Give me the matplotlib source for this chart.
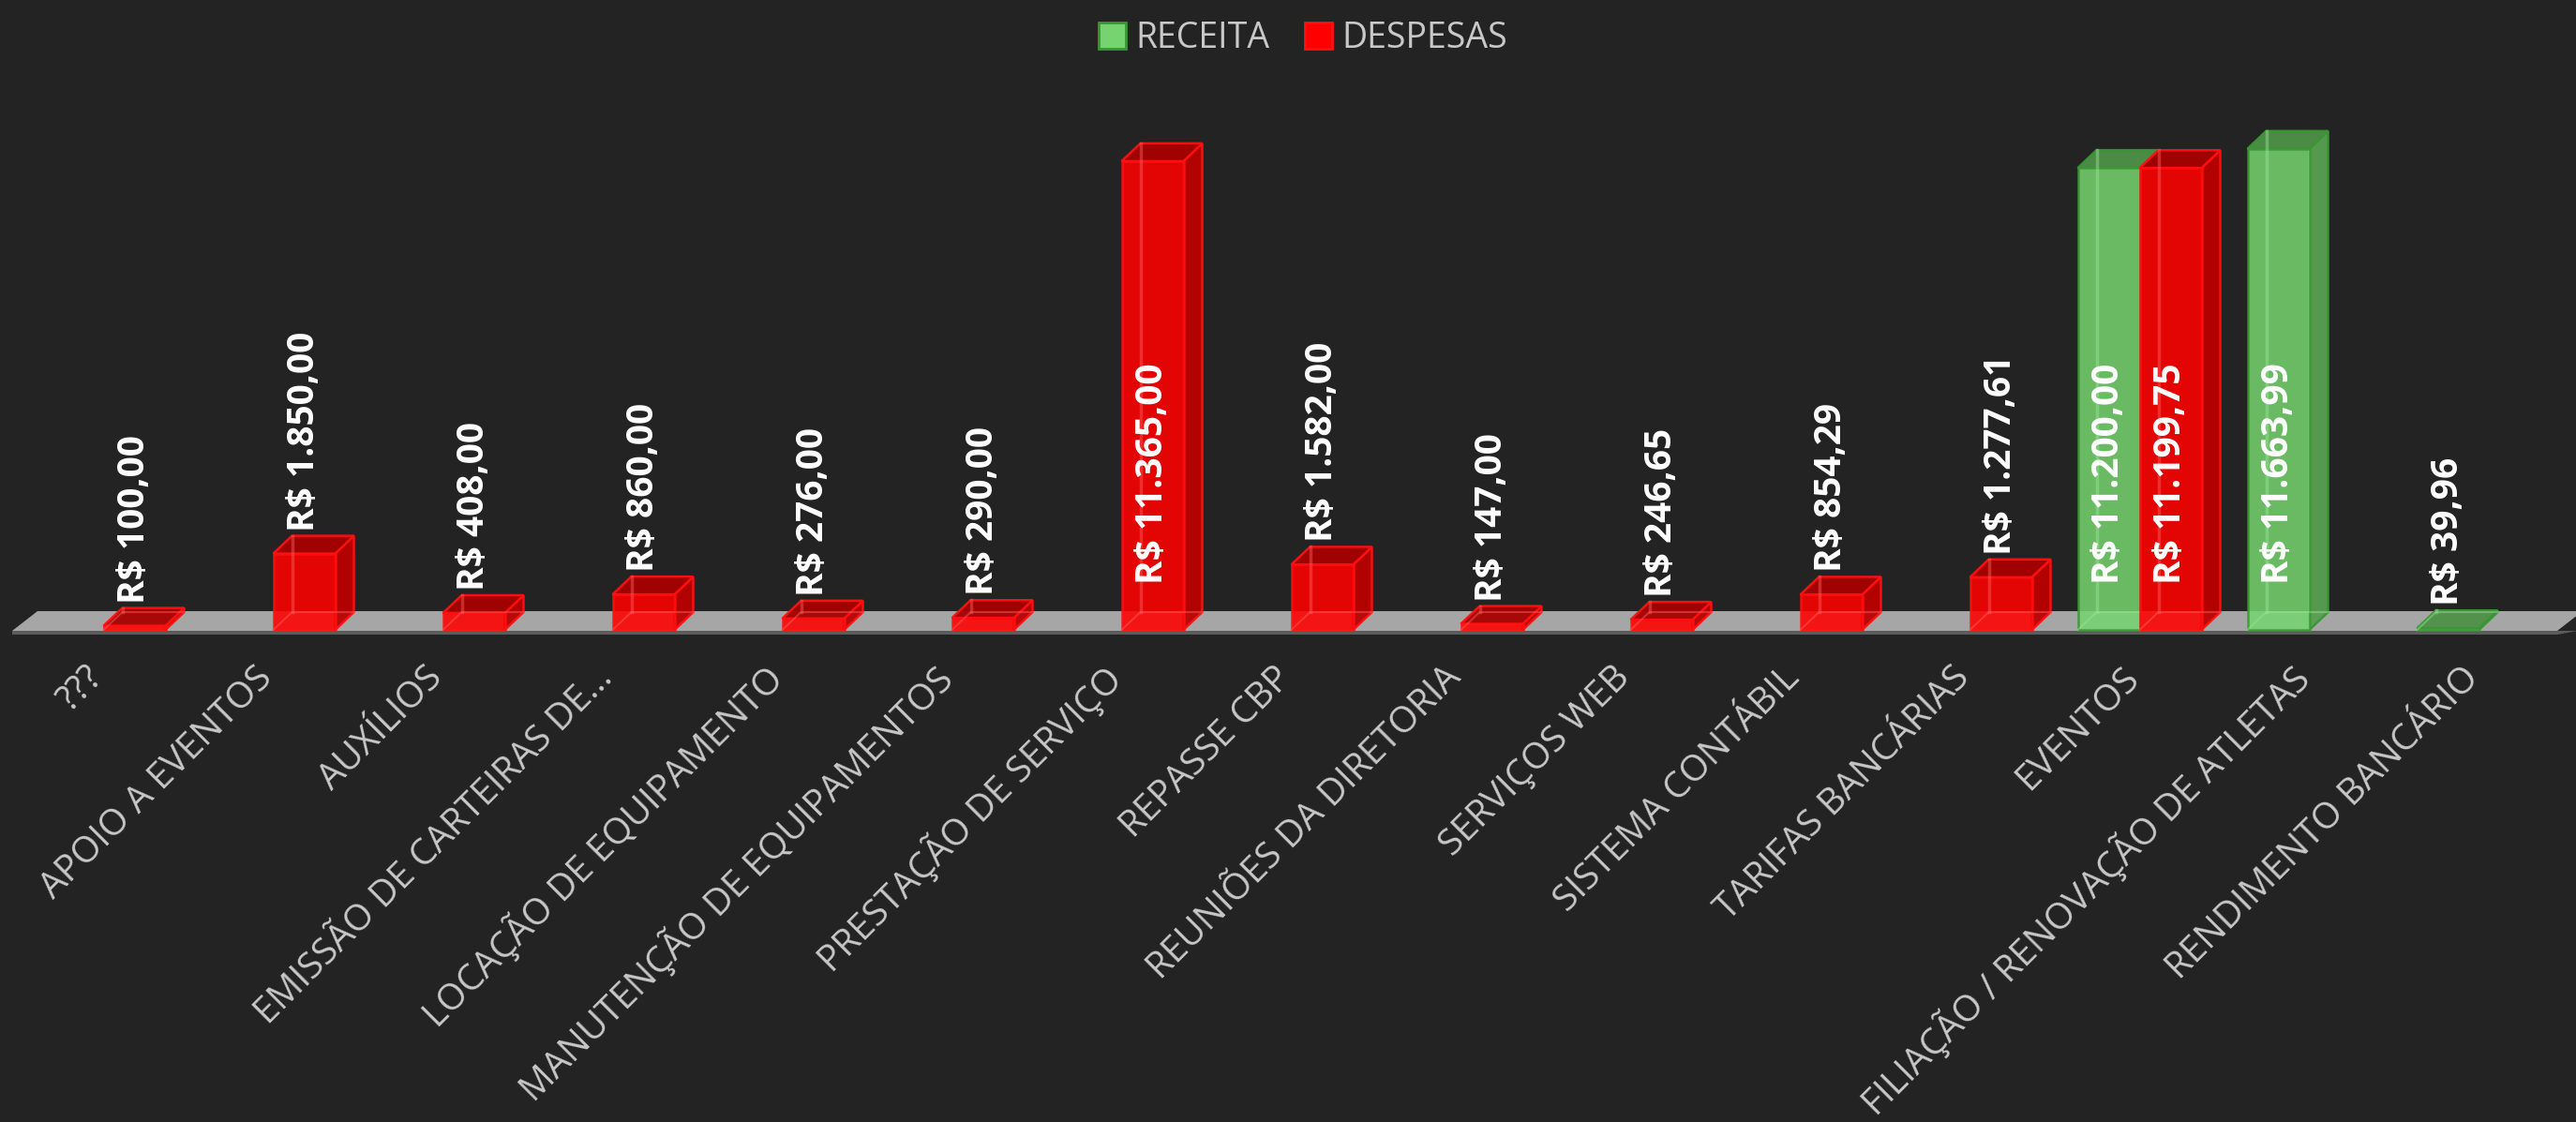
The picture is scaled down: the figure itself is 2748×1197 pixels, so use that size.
import matplotlib
matplotlib.use('Agg')
import matplotlib.pyplot as plt
from matplotlib.patches import Patch
from matplotlib.transforms import ScaledTranslation
import numpy as np

plt.rcParams['font.family'] = ['Open Sans', 'DejaVu Sans']

# ---------------- data ----------------
categories = [
    "???", "APOIO A EVENTOS", "AUXÍLIOS", "EMISSÃO DE CARTEIRAS DE...",
    "LOCAÇÃO DE EQUIPAMENTO", "MANUTENÇÃO DE EQUIPAMENTOS", "PRESTAÇÃO DE SERVIÇO",
    "REPASSE CBP", "REUNIÕES DA DIRETORIA", "SERVIÇOS WEB", "SISTEMA CONTÁBIL",
    "TARIFAS BANCÁRIAS", "EVENTOS", "FILIAÇÃO / RENOVAÇÃO DE ATLETAS",
    "RENDIMENTO BANCÁRIO",
]
receita = [np.nan, np.nan, np.nan, np.nan, np.nan, np.nan, np.nan,
           np.nan, np.nan, np.nan, np.nan, np.nan, 11200.00, 11663.99, 39.96]
despesas = [100.00, 1850.00, 408.00, 860.00, 276.00, 290.00, 11365.00,
            1582.00, 147.00, 246.65, 854.29, 1277.61, 11199.75, np.nan, np.nan]
series_names = ["RECEITA", "DESPESAS"]

# ---------------- style ----------------
BG = '#232323'
STY = {
    "RECEITA": dict(front='#76d470', side='#58a052', top='#4e9148',
                    edge='#3a9634', inner='#9be695'),
    "DESPESAS": dict(front='#ff0000', side='#bb0000', top='#a80000',
                     edge='#ff1010', inner='#ff6060'),
}

W, H, DPI = 2748, 1197, 100
fig = plt.figure(figsize=(W / DPI, H / DPI), dpi=DPI, facecolor=BG)

# layout constants (pixels)
PX_CAT = 181.0
X0_PX = 13.0
PX_VAL = 0.044
BASE_PX = 672.0
AX_TOP_PX, AX_BOT_PX = 80, 680

ax = fig.add_axes([0, (H - AX_BOT_PX) / H, 1, (AX_BOT_PX - AX_TOP_PX) / H])
ax.set_xlim(-X0_PX / PX_CAT - 0.5, (W - X0_PX) / PX_CAT - 0.5)
ax.set_ylim(-(AX_BOT_PX - BASE_PX) / PX_VAL, (BASE_PX - AX_TOP_PX) / PX_VAL)
ax.set_facecolor('none')
for s in ax.spines.values():
    s.set_visible(False)
ax.set_yticks([])

DX = 20 / PX_CAT
DY = 19 / PX_VAL
BAR_W = 66 / PX_CAT
SHIFT = 7 / PX_CAT

n = len(categories)
# floor
f_top = -1 / PX_VAL
f_bot = -5 / PX_VAL
f_back = 20 / PX_VAL
f_dx = 27 / PX_CAT
xl_f, xr_f = -0.5, n - 0.5
ax.fill([xl_f, xr_f, xr_f + f_dx, xl_f + f_dx], [f_top, f_top, f_back, f_back],
        color='#a6a6a6', zorder=1, lw=0)
ax.fill([xl_f, xr_f, xr_f + f_dx * 0.8, xl_f], [f_bot, f_bot, f_top, f_top],
        color='#5c5c5c', zorder=1, lw=0)


def brl(v):
    s = f"{v:,.2f}"
    return "R$ " + s.replace(',', 'X').replace('.', ',').replace('X', '.')


INSIDE_Y = 49 / PX_VAL
LABEL_GAP = 5 / PX_VAL

for slot, (name, vals) in enumerate(zip(series_names, [receita, despesas])):
    st = STY[name]
    z = 3 + slot
    for i, v in enumerate(vals):
        if np.isnan(v):
            continue
        xl = i + SHIFT - BAR_W + slot * BAR_W
        xr = xl + BAR_W
        other = despesas[i] if slot == 0 else np.nan
        # side face (hidden when a neighbour bar stands right next to it)
        if np.isnan(other):
            ax.fill([xr, xr + DX, xr + DX, xr], [0, DY, v + DY, v],
                    facecolor=st['side'], edgecolor=st['edge'], lw=1.8,
                    alpha=0.95, zorder=z + 0.1)
        # top face
        ax.fill([xl, xr, xr + DX, xl + DX], [v, v, v + DY, v + DY],
                facecolor=st['top'], edgecolor=st['edge'], lw=1.8,
                alpha=0.95, zorder=z + 0.2)
        # front face
        ax.bar(xl, v, width=BAR_W, bottom=0, align='edge', color=st['front'],
               alpha=0.88 if slot == 1 else 0.86, edgecolor=st['edge'],
               linewidth=1.8, zorder=z + 0.3)
        # hidden (back) edges seen through the translucent bar
        ax.plot([xl + DX, xl + DX], [DY, v + DY], color=st['inner'],
                lw=2.5, alpha=0.45, zorder=z + 0.35)
        ax.plot([xl, xl + DX, xr + DX], [0, DY, DY], color=st['inner'],
                lw=1.5, alpha=0.45, zorder=z + 0.35)
        # value label
        y_lab = INSIDE_Y if v > 5000 else v + DY + LABEL_GAP
        ax.text(xl + BAR_W / 2, y_lab, brl(v), rotation=90, ha='center',
                va='bottom', color='white', fontsize=28, fontweight='bold',
                zorder=10)

# category labels
ax.set_xticks(np.arange(n) + SHIFT)
ax.set_xticklabels(categories, rotation=45, ha='right', va='center',
                   rotation_mode='anchor', fontsize=28, color='#c8c8c8')
ax.tick_params(axis='x', length=0, pad=27)
off = ScaledTranslation(-6 / DPI, 0, fig.dpi_scale_trans)
for lbl in ax.get_xticklabels():
    lbl.set_transform(lbl.get_transform() + off)

# legend
handles = [Patch(facecolor=STY[s]['front'], edgecolor=STY[s]['edge'], lw=2)
           for s in series_names]
fig.legend(handles, series_names, loc='center',
           bbox_to_anchor=(0.506, 1 - 41 / H), ncol=2, frameon=False,
           fontsize=27, labelcolor='#c8c8c8', handlelength=0.75,
           handleheight=0.75, handletextpad=0.3, columnspacing=1.0)

fig.savefig('out.png', dpi=DPI, facecolor=BG)
